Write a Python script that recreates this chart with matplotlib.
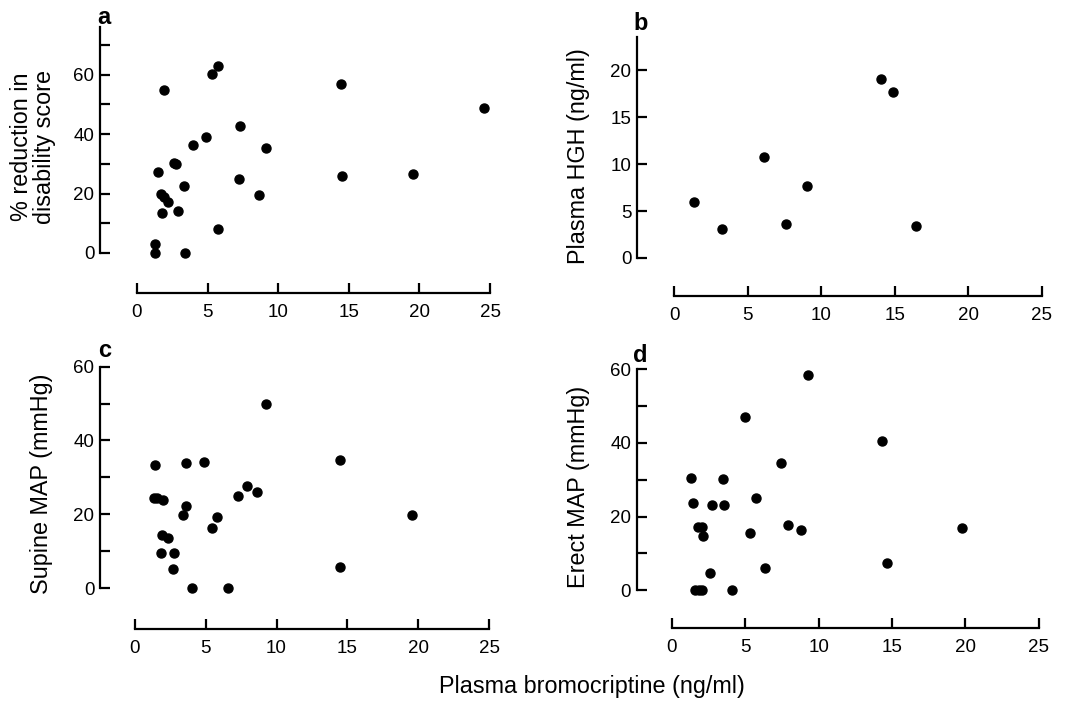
import matplotlib
matplotlib.use("Agg")
import matplotlib.pyplot as plt
from matplotlib.ticker import FixedLocator

plt.rcParams['font.family'] = ['Liberation Sans', 'DejaVu Sans']

# Panel a: % reduction in disability score
a_x = [1.89, 5.33, 5.75, 14.43, 24.58, 7.26, 4.91, 3.96, 9.15, 2.6, 2.75, 1.49, 7.22,
       14.53, 19.58, 3.35, 8.61, 1.70, 1.93, 2.22, 1.75, 2.90, 5.75, 1.25, 1.25, 3.40]
a_y = [54.8, 60.4, 62.9, 57.0, 48.7, 42.8, 39.2, 36.5, 35.3, 30.4, 30.0, 27.4, 24.9,
       25.8, 26.7, 22.5, 19.6, 19.8, 18.7, 17.1, 13.6, 14.1, 8.2, 3.0, 0.0, 0.0]

# Panel b: Plasma HGH
b_x = [1.38, 3.24, 6.10, 7.62, 9.07, 14.06, 14.88, 16.44]
b_y = [6.0, 3.07, 10.8, 3.67, 7.7, 19.1, 17.7, 3.4]

# Panel c: Supine MAP
c_x = [1.43, 1.36, 1.55, 2.02, 3.59, 4.89, 9.24, 14.47, 3.62, 3.41, 7.28, 7.94, 8.60,
       5.80, 5.45, 19.58, 1.93, 2.35, 1.88, 2.77, 2.68, 4.04, 6.56, 14.47]
c_y = [33.4, 24.5, 24.5, 24.0, 34.0, 34.2, 49.9, 34.8, 22.3, 19.8, 25.0, 27.6, 26.1,
       19.3, 16.2, 19.9, 14.4, 13.5, 9.4, 9.4, 5.2, 0.0, 0.0, 5.7]

# Panel d: Erect MAP
d_x = [9.28, 4.99, 14.34, 7.42, 1.32, 3.49, 5.72, 1.47, 2.74, 3.54, 1.81, 2.06, 2.13,
       7.89, 8.78, 5.35, 19.74, 14.68, 6.37, 2.63, 1.57, 1.85, 2.08, 4.08]
d_y = [58.5, 47.1, 40.5, 34.5, 30.4, 30.3, 25.0, 23.6, 23.2, 23.2, 17.1, 17.1, 14.7,
       17.8, 16.3, 15.6, 16.9, 7.3, 6.0, 4.8, 0.0, 0.0, 0.0, 0.0]

x_ticks = [0, 5, 10, 15, 20, 25]
a_yticks = [0, 20, 40, 60]
a_yminor = [10, 30, 50, 70]
b_yticks = [0, 5, 10, 15, 20]
cd_yticks = [0, 20, 40, 60]
cd_yminor = [10, 30, 50]

W, H = 1066, 701
fig = plt.figure(figsize=(W / 100, H / 100), dpi=100)


def px_axes(left, right, top, bottom):
    return fig.add_axes([left / W, 1 - bottom / H, (right - left) / W, (bottom - top) / H])


panels = [
    dict(x=a_x, y=a_y, box=(100, 497.1, 27.3, 293), xlim=(-2.62, 25.5), ylim=(-13.5, 76),
         ybounds=(0, 76), yt=a_yticks, ym=a_yminor, letter='a', lpos=(104, 17)),
    dict(x=b_x, y=b_y, box=(637, 1049, 36.7, 296), xlim=(-2.52, 25.5), ylim=(-4.06, 23.6),
         ybounds=(0, 23.6), yt=b_yticks, ym=[], letter='b', lpos=(641, 24)),
    dict(x=c_x, y=c_y, box=(100, 496.5, 366.7, 629), xlim=(-2.44, 25.5), ylim=(-11.1, 60),
         ybounds=(0, 60), yt=cd_yticks, ym=cd_yminor, letter='c', lpos=(105, 351)),
    dict(x=d_x, y=d_y, box=(636.7, 1046.3, 369, 628), xlim=(-2.38, 25.5), ylim=(-10.2, 60),
         ybounds=(0, 60), yt=cd_yticks, ym=cd_yminor, letter='d', lpos=(640, 355)),
]

for p in panels:
    ax = px_axes(*p['box'])
    ax.plot(p['x'], p['y'], 'o', color='black', markersize=6.5, clip_on=False)
    ax.set_xlim(*p['xlim'])
    ax.set_ylim(*p['ylim'])
    ax.patch.set_visible(False)
    for s in ['top', 'right']:
        ax.spines[s].set_visible(False)
    for s in ['left', 'bottom']:
        ax.spines[s].set_linewidth(1.6)
    ax.spines['bottom'].set_bounds(0, 25)
    ax.spines['left'].set_bounds(*p['ybounds'])
    ax.set_xticks(x_ticks)
    ax.set_xticklabels([str(t) for t in x_ticks])
    ax.set_yticks(p['yt'])
    ax.set_yticklabels([str(t) for t in p['yt']])
    ax.yaxis.set_minor_locator(FixedLocator(p['ym']))
    ax.xaxis.set_minor_locator(FixedLocator([]))
    ax.tick_params(axis='x', direction='in', length=7, width=1.6, pad=8, labelsize=13.5)
    ax.tick_params(axis='y', which='both', direction='in', length=7, width=1.6, pad=4,
                   labelsize=13.5)
    fig.text(p['lpos'][0] / W, 1 - p['lpos'][1] / H, p['letter'], fontsize=17,
             fontweight='bold', ha='center', va='center')

ylabels = [
    ("% reduction in\ndisability score", 33, 147),
    ("Plasma HGH (ng/ml)", 578, 156),
    ("Supine MAP (mmHg)", 42, 484),
    ("Erect MAP (mmHg)", 579, 487),
]
for txt, x, y in ylabels:
    fig.text(x / W, 1 - y / H, txt, rotation=90, ha='center', va='center', fontsize=16.8,
             linespacing=1.05)

fig.text(592 / W, 1 - 687 / H, "Plasma bromocriptine (ng/ml)", ha='center', va='center',
         fontsize=16.8)

fig.savefig("out.png", dpi=100)
